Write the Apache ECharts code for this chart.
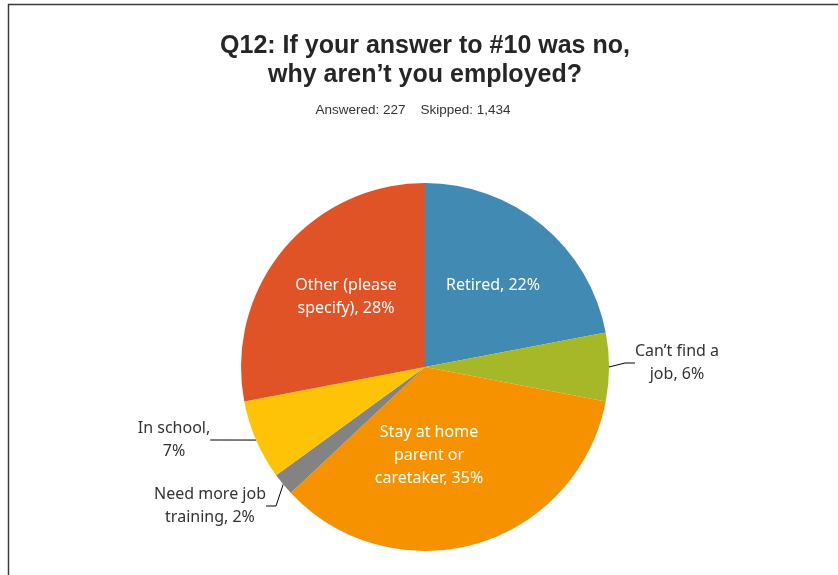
<!DOCTYPE html>
<html>
<head>
<meta charset="utf-8">
<script src="https://cdn.jsdelivr.net/npm/echarts@6/dist/echarts.min.js"></script>
<style>html,body{margin:0;padding:0;background:#fff}#c{width:838px;height:575px}</style>
</head>
<body>
<div id="c"></div>
<script>
const categories = ["Retired", "Can’t find a job", "Stay at home parent or caretaker", "Need more job training", "In school", "Other (please specify)"];
const values = [22, 6, 35, 2, 7, 28];
const labelTexts = ["Retired, 22%", "Can’t find a\njob, 6%", "Stay at home\nparent or\ncaretaker, 35%", "Need more job\ntraining, 2%", "In school,\n7%", "Other (please\nspecify), 28%"];
const colors = ["#418AB3", "#A6B727", "#F69200", "#838383", "#FEC306", "#DF5327"];
const insideIdx = [0, 2, 5];
const labelPos = [[493, 285], [677, 363], [429, 455], [210, 506], [174, 440], [346, 297]];

const chart = echarts.init(document.getElementById('c'));
chart.setOption({
  animation: false,
  title: [{
    text: 'Q12: If your answer to #10 was no,\nwhy aren’t you employed?',
    left: 420, top: 27, textAlign: 'center',
    textStyle: {fontFamily: 'Liberation Sans, Arial', fontSize: 25, fontWeight: 'bold', color: '#262626', lineHeight: 29}
  }, {
    text: 'Answered: 227\u00a0\u00a0\u00a0\u00a0Skipped: 1,434',
    left: 408, top: 98, textAlign: 'center',
    textStyle: {fontFamily: 'Liberation Sans, Arial', fontSize: 13.5, fontWeight: 'normal', color: '#333'}
  }],
  graphic: [{type: 'rect', shape: {x: 8.5, y: 4.5, width: 900, height: 700}, style: {fill: 'none', stroke: '#3a3a3a', lineWidth: 1.5}, silent: true}],
  series: [{
    type: 'pie',
    center: [425, 367],
    radius: 184,
    startAngle: 90,
    clockwise: true,
    itemStyle: {borderWidth: 0},
    data: categories.map((n, i) => ({
      name: n, value: values[i],
      itemStyle: {color: colors[i]},
      label: insideIdx.includes(i)
        ? {position: 'inside', color: '#fff'}
        : {position: 'outside', color: '#333'},
      labelLine: {show: !insideIdx.includes(i), lineStyle: {color: '#000', width: 1}}
    })),
    label: {
      formatter: p => labelTexts[p.dataIndex],
      fontFamily: 'Noto Sans', fontSize: 16, lineHeight: 23, align: 'center'
    },
    labelLine: {length: 10, length2: 10},
    labelLayout: p => ({x: labelPos[p.dataIndex][0], y: labelPos[p.dataIndex][1], align: 'center', verticalAlign: 'middle'})
  }]
});
</script>
</body>
</html>
